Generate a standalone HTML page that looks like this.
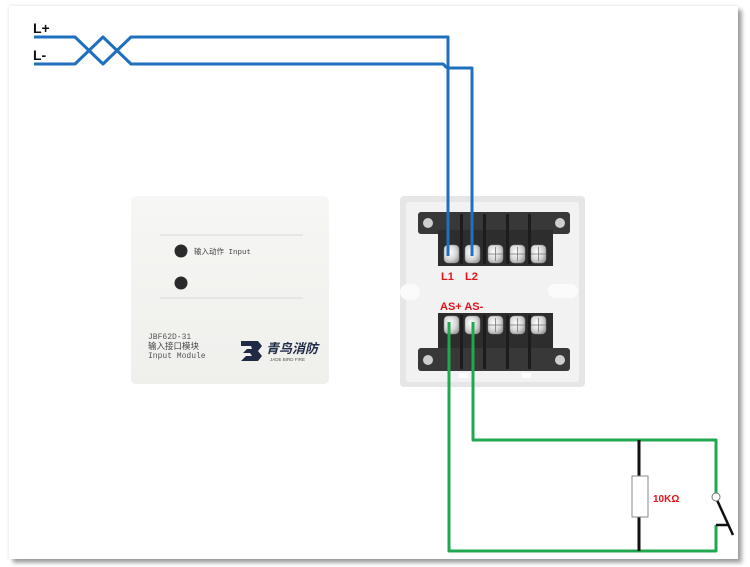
<!DOCTYPE html>
<html><head><meta charset="utf-8">
<style>
html,body{margin:0;padding:0;background:#fff;}
body{width:750px;height:567px;position:relative;overflow:hidden;font-family:"Liberation Sans","Noto Sans CJK SC",sans-serif;}
.card{position:absolute;left:9px;top:6px;width:729px;height:553px;background:#fff;box-shadow:0 0 4px rgba(0,0,0,0.12),4px 4px 4px rgba(0,0,0,0.35);}
svg{position:absolute;left:0;top:0;}
</style></head><body>
<div class="card"></div>
<svg width="750" height="567" viewBox="0 0 750 567" xmlns="http://www.w3.org/2000/svg">
<defs>
<linearGradient id="pan" x1="0" y1="0" x2="0" y2="1">
<stop offset="0" stop-color="#f6f6f4"/><stop offset="1" stop-color="#efefec"/>
</linearGradient>
<radialGradient id="scr" cx="0.4" cy="0.4" r="0.7">
<stop offset="0" stop-color="#ffffff"/><stop offset="0.6" stop-color="#d6d6d6"/><stop offset="1" stop-color="#9a9a9a"/>
</radialGradient>
</defs>

<!-- front panel -->
<rect x="131" y="196" width="198" height="188" rx="5" fill="url(#pan)"/>
<line x1="160" y1="235" x2="303" y2="235" stroke="#e2e2de" stroke-width="1.5"/>
<line x1="160" y1="298" x2="303" y2="298" stroke="#e2e2de" stroke-width="1.5"/>
<circle cx="181" cy="251" r="6.5" fill="#2a2a2a"/>
<circle cx="181" cy="283" r="6.5" fill="#2a2a2a"/>
<text x="194" y="254" font-size="7.5" fill="#444" font-family="Liberation Mono, Noto Sans CJK SC, monospace">输入动作 Input</text>
<text x="148" y="339" font-size="8" fill="#555" font-family="Liberation Mono, monospace">JBF62D-31</text>
<text x="148" y="349" font-size="8.5" fill="#444">输入接口模块</text>
<text x="148" y="358" font-size="8" fill="#555" font-family="Liberation Mono, monospace">Input Module</text>
<path d="M241 341 H258 L262 346 L258 351 L262 356 L258 361 H241 L246 356 H252 L250 353 H243 L247 349 H252 L251 346 H241 Z" fill="#1f2a44"/>
<text x="266" y="353" font-size="13" font-weight="bold" font-style="italic" fill="#1f2a44">青鸟消防</text>
<text x="270" y="361" font-size="4.5" fill="#555">JADE BIRD FIRE</text>

<!-- base -->
<rect x="400" y="196" width="185" height="191" rx="4" fill="#e6e6e6"/>
<rect x="406" y="202" width="173" height="180" rx="3" fill="#f2f2f2"/>
<rect x="400" y="284" width="20" height="16" rx="8" fill="#fbfbfb"/>
<rect x="548" y="284" width="30" height="14" rx="7" fill="#fbfbfb"/>
<!-- top block -->
<rect x="418" y="212" width="152" height="22" rx="3" fill="#383838"/>
<rect x="438" y="230" width="115" height="36" fill="#2d2d2d"/>
<g fill="#1c1c1c"><rect x="460" y="214" width="3" height="50"/><rect x="483" y="214" width="3" height="50"/><rect x="506" y="214" width="3" height="50"/><rect x="528" y="214" width="3" height="50"/></g>
<circle cx="428" cy="223" r="5" fill="#cfcfcf"/><circle cx="560" cy="223" r="5" fill="#cfcfcf"/>
<g fill="url(#scr)" stroke="#888" stroke-width="0.5">
<rect x="444" y="245" width="15" height="18" rx="4"/><rect x="465" y="245" width="15" height="18" rx="4"/><rect x="488" y="245" width="15" height="18" rx="4"/><rect x="510" y="245" width="15" height="18" rx="4"/><rect x="531" y="245" width="15" height="18" rx="4"/>
</g>
<!-- bottom block -->
<rect x="438" y="313" width="115" height="40" fill="#2d2d2d"/>
<rect x="418" y="348" width="152" height="23" rx="3" fill="#383838"/>
<g fill="#1c1c1c"><rect x="460" y="315" width="3" height="54"/><rect x="483" y="315" width="3" height="54"/><rect x="506" y="315" width="3" height="54"/><rect x="528" y="315" width="3" height="54"/></g>
<circle cx="428" cy="360" r="5" fill="#cfcfcf"/><circle cx="560" cy="360" r="5" fill="#cfcfcf"/>
<g fill="url(#scr)" stroke="#888" stroke-width="0.5">
<rect x="444" y="316" width="15" height="18" rx="4"/><rect x="465" y="316" width="15" height="18" rx="4"/><rect x="488" y="316" width="15" height="18" rx="4"/><rect x="510" y="316" width="15" height="18" rx="4"/><rect x="531" y="316" width="15" height="18" rx="4"/>
</g>
<g stroke="#777" stroke-width="0.8">
<path d="M488 254 h15 M495.5 247 v14 M510 254 h15 M517.5 247 v14 M531 254 h15 M538.5 247 v14"/>
<path d="M488 325 h15 M495.5 318 v14 M510 325 h15 M517.5 318 v14 M531 325 h15 M538.5 318 v14"/>
</g>
<rect x="459" y="373" width="9" height="5" fill="#fff"/><rect x="522" y="373" width="9" height="5" fill="#fff"/>

<!-- red labels -->
<g font-size="11" font-weight="bold" fill="#e3131b">
<text x="441" y="280">L1</text><text x="465" y="280">L2</text>
<text x="440" y="310">AS+ AS-</text>
</g>

<!-- blue wires -->
<g fill="none" stroke="#1f6fbf" stroke-width="3" stroke-linejoin="round">
<path d="M34 37 H75 L103 64 L131 37 H448 V256"/>
<path d="M34 64 H75 L103 37 L131 64 H442 Q444 64 445 66 Q446 68 450 68 H472 V256"/>
</g>
<text x="33" y="33" font-size="14" font-weight="bold" fill="#111">L+</text>
<text x="33" y="60" font-size="14" font-weight="bold" fill="#111">L-</text>

<!-- green wires -->
<g fill="none" stroke="#20a750" stroke-width="3" stroke-linejoin="round">
<path d="M449 322 V551 H716 V525"/>
<path d="M473 322 V440 H716 V493"/>
</g>
<!-- resistor -->
<line x1="639" y1="440" x2="639" y2="551" stroke="#111" stroke-width="3"/>
<rect x="632" y="476" width="16" height="41" fill="#fff" stroke="#888" stroke-width="1"/>
<text x="653" y="502" font-size="10" font-weight="bold" fill="#e3131b">10KΩ</text>
<!-- switch -->
<line x1="717" y1="500" x2="733" y2="535" stroke="#111" stroke-width="2.5"/>
<line x1="716" y1="525" x2="729" y2="525" stroke="#111" stroke-width="2.5"/>
<circle cx="716" cy="497" r="4" fill="#fff" stroke="#777" stroke-width="1"/>
</svg>
</body></html>
